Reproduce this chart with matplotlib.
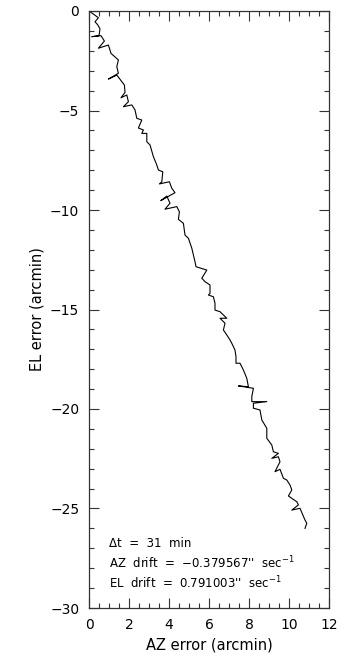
import numpy as np
from matplotlib import pyplot as plt
from matplotlib.ticker import MultipleLocator

plt.rcParams['font.family'] = ['DejaVu Sans']

# pointing error track (arcmin)
az_err = [0.05, 0.47, 0.30, 0.44, 0.55, 0.50, 0.14, 0.60, 0.77, 0.47,
          0.97, 1.10, 1.47, 1.39, 1.47, 0.97, 1.39, 1.77, 1.80, 1.60,
          1.89, 1.97, 1.72, 2.14, 2.30, 2.39, 2.64, 2.47, 2.72, 2.64,
          2.89, 2.89, 3.05, 3.22, 3.39, 3.47, 3.69, 3.64, 3.52, 4.02,
          4.14, 4.30, 3.59, 3.89, 4.05, 3.80, 4.39, 4.52, 4.47, 4.72,
          4.80, 4.97, 5.14, 5.30, 5.35, 5.89, 5.64, 5.80, 6.05, 6.05,
          5.97, 6.22, 6.30, 6.30, 6.55, 6.89, 6.55, 6.80, 6.72, 6.89,
          7.05, 7.14, 7.30, 7.35, 7.35, 7.55, 7.72, 7.89, 7.97, 7.47,
          8.22, 8.14, 8.14, 8.89, 8.22, 8.22, 8.55, 8.64, 8.89, 8.89,
          9.14, 9.22, 9.47, 9.14, 9.47, 9.55, 9.30, 9.55, 9.72, 9.89,
          10.05, 10.14, 9.97, 10.14, 10.39, 10.47, 10.14, 10.55, 10.80, 10.89,
          10.80]
el_err = [-0.03, -0.34, -0.54, -0.70, -0.90, -1.24, -1.29, -1.24, -1.51, -1.87,
          -1.71, -2.13, -2.46, -2.80, -3.13, -3.42, -3.22, -3.72, -4.09, -4.36,
          -4.22, -4.56, -4.81, -4.72, -4.97, -5.39, -5.48, -5.88, -5.98, -6.15,
          -6.15, -6.57, -6.73, -7.32, -7.74, -7.99, -8.08, -8.58, -8.69, -8.58,
          -8.91, -9.13, -9.53, -9.30, -9.66, -9.96, -9.83, -10.09, -10.47, -10.67,
          -11.26, -11.42, -11.92, -12.60, -12.85, -13.02, -13.43, -13.60, -13.77, -14.19,
          -14.27, -14.36, -14.69, -15.03, -15.11, -15.44, -15.44, -15.69, -16.03, -16.28,
          -16.53, -16.70, -17.04, -17.37, -17.70, -17.70, -18.04, -18.46, -18.88, -18.84,
          -18.96, -19.38, -19.63, -19.63, -19.71, -19.96, -20.05, -20.55, -20.97, -21.47,
          -21.81, -22.15, -22.23, -22.48, -22.40, -22.65, -23.15, -23.03, -23.48, -23.57,
          -23.82, -24.07, -24.37, -24.49, -24.66, -24.82, -25.08, -24.99, -25.58, -25.74,
          -26.00]

notes = ["\u0394t  =  31  min",
         "AZ  drift  =  \u22120.379567''  sec$^{-1}$",
         "EL  drift  =  0.791003''  sec$^{-1}$"]

fig = plt.figure(figsize=(3.42, 6.62), dpi=100)
ax = fig.add_axes([89/342, 1 - 608/662, 240/342, 597/662])

ax.plot(az_err, el_err, color='black', lw=0.8)

ax.set_xlim(0, 12)
ax.set_ylim(-30, 0)
ax.xaxis.set_major_locator(MultipleLocator(2))
ax.xaxis.set_minor_locator(MultipleLocator(0.5))
ax.yaxis.set_major_locator(MultipleLocator(5))
ax.yaxis.set_minor_locator(MultipleLocator(1))
ax.tick_params(which='both', direction='in', top=True, right=True,
               labelsize=10, width=0.8, color='#333333')
ax.tick_params(which='major', length=7, pad=7)
ax.tick_params(which='minor', length=3.5)
for s in ax.spines.values():
    s.set_linewidth(0.9)
    s.set_color('#333333')

ax.set_xlabel("AZ error (arcmin)", fontsize=10.5, labelpad=4)
ax.set_ylabel("EL error (arcmin)", fontsize=10.5, labelpad=4)

for i, t in enumerate(notes):
    ax.text(1.0, -26.75 - i, t, fontsize=8.5, va='center', ha='left')

plt.savefig("out.png", dpi=100)
